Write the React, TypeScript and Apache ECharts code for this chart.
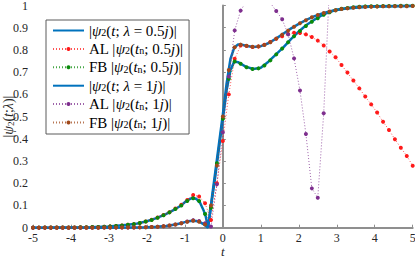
import React, { useEffect, useRef } from 'react';
import * as echarts from 'echarts';

// sample times t_n used by the discrete methods (markers)
const tSample = [
  -5, -4.84375, -4.6875, -4.53125, -4.375, -4.21875, -4.0625, -3.90625, -3.75, -3.59375,
  -3.4375, -3.28125, -3.125, -2.96875, -2.8125, -2.65625, -2.5, -2.34375, -2.1875, -2.03125,
  -1.875, -1.71875, -1.5625, -1.40625, -1.25, -1.09375, -0.9375, -0.78125, -0.625, -0.46875,
  -0.3125, -0.15625, 0, 0.15625, 0.3125, 0.46875, 0.625, 0.78125, 0.9375, 1.09375,
  1.25, 1.40625, 1.5625, 1.71875, 1.875, 2.03125, 2.1875, 2.34375, 2.5, 2.65625,
  2.8125, 2.96875, 3.125, 3.28125, 3.4375, 3.59375, 3.75, 3.90625, 4.0625, 4.21875,
  4.375, 4.53125, 4.6875, 4.84375, 5,
];

// exact curves (continuous blue lines)
const tCurve = [
  -5, -4.5, -4, -3.5, -3, -2.5, -2.25, -2, -1.75, -1.5, -1.25, -1.1, -1, -0.9, -0.8, -0.7,
  -0.6, -0.5, -0.45, -0.39, -0.3, -0.2, -0.1, 0, 0.1, 0.2, 0.3, 0.4, 0.5, 0.6, 0.8, 1.0,
  1.2, 1.4, 1.6, 1.8, 2.0, 2.2, 2.4, 2.6, 2.8, 3.0, 3.25, 3.5, 3.75, 4, 4.5, 5,
];
const exact05 = [
  0.0003, 0.0006, 0.0012, 0.0025, 0.0055, 0.013, 0.019, 0.029, 0.043, 0.061, 0.084, 0.1, 0.115, 0.127, 0.134, 0.13,
  0.112, 0.075, 0.05, 0.0, 0.11, 0.23, 0.36, 0.49, 0.62, 0.71, 0.748, 0.745, 0.735, 0.725, 0.714, 0.72,
  0.747, 0.78, 0.813, 0.85, 0.883, 0.912, 0.935, 0.955, 0.971, 0.981, 0.988, 0.993, 0.996, 0.997, 0.998, 0.999,
];
const exact1 = [
  0, 0, 0, 0.0001, 0.0003, 0.0008, 0.0013, 0.002, 0.004, 0.008, 0.014, 0.02, 0.025, 0.029, 0.031, 0.03,
  0.025, 0.015, 0.009, 0.0, 0.12, 0.25, 0.38, 0.51, 0.65, 0.76, 0.81, 0.825, 0.824, 0.819, 0.813, 0.817,
  0.83, 0.851, 0.874, 0.897, 0.917, 0.935, 0.951, 0.963, 0.973, 0.98, 0.986, 0.99, 0.993, 0.995, 0.997, 0.998,
];

// AL method, lambda = 0.5j
const al05 = [
  0.0003, 0.0004, 0.0005, 0.0006, 0.0007, 0.0009, 0.0011, 0.0013, 0.0017, 0.0021,
  0.0028, 0.0036, 0.0045, 0.006, 0.0077, 0.0098, 0.013, 0.016, 0.021, 0.028,
  0.036, 0.046, 0.057, 0.07, 0.086, 0.103, 0.125, 0.147, 0.14, 0.11,
  0.035, 0.2, 0.39, 0.6, 0.76, 0.82, 0.818, 0.813, 0.815, 0.823,
  0.836, 0.85, 0.862, 0.872, 0.877, 0.876, 0.87, 0.858, 0.842, 0.82,
  0.793, 0.767, 0.732, 0.698, 0.662, 0.627, 0.59, 0.555, 0.518, 0.477,
  0.44, 0.398, 0.36, 0.323, 0.279,
];
// FB method, lambda = 0.5j
const fb05 = [
  0.0003, 0.0004, 0.0005, 0.0006, 0.0007, 0.0009, 0.0011, 0.0013, 0.0017, 0.0021,
  0.0028, 0.0036, 0.0045, 0.006, 0.0077, 0.0098, 0.013, 0.016, 0.021, 0.028,
  0.035, 0.045, 0.056, 0.069, 0.084, 0.1, 0.12, 0.133, 0.12, 0.062,
  0.09, 0.29, 0.49, 0.67, 0.748, 0.738, 0.722, 0.714, 0.717, 0.73,
  0.753, 0.78, 0.806, 0.835, 0.862, 0.885, 0.908, 0.927, 0.943, 0.958,
  0.97, 0.979, 0.985, 0.989, 0.992, 0.994, 0.996, 0.997, 0.997, 0.998,
  0.998, 0.998, 0.999, 0.999, 0.999,
];
// AL method, lambda = 1j (null = outside the plotted range)
const al1 = [
  0, 0, 0, 0, 0, 0, 0, 0, 0.0001, 0.0001,
  0.0001, 0.0002, 0.0003, 0.0003, 0.0004, 0.0006, 0.0008, 0.001, 0.0014, 0.002,
  0.003, 0.0045, 0.007, 0.01, 0.014, 0.02, 0.028, 0.034, 0.03, 0.02,
  0.005, 0.195, 0.43, 0.68, 0.888, 0.977, 1.02, null, null, null,
  1.012, 0.975, 0.938, 0.87, 0.762, 0.617, 0.422, 0.177, 0.135, 0.515,
  1.1, null, null, null, null, null, null, null, null, null,
  null, null, null, null, null,
];
// FB method, lambda = 1j
const fb1 = [
  0, 0, 0, 0, 0, 0, 0, 0, 0.0001, 0.0001,
  0.0001, 0.0002, 0.0003, 0.0003, 0.0004, 0.0006, 0.0008, 0.001, 0.0014, 0.002,
  0.003, 0.0045, 0.007, 0.01, 0.014, 0.02, 0.027, 0.031, 0.027, 0.014,
  0.1, 0.28, 0.5, 0.71, 0.812, 0.824, 0.819, 0.814, 0.816, 0.822,
  0.835, 0.851, 0.869, 0.887, 0.904, 0.92, 0.934, 0.947, 0.957, 0.966,
  0.973, 0.979, 0.984, 0.987, 0.99, 0.992, 0.993, 0.994, 0.995, 0.996,
  0.996, 0.997, 0.997, 0.997, 0.998,
];

const seriesNames = [
  '|ψ2(t; λ = 0.5j)|',
  'AL |ψ2(tn; 0.5j)|',
  'FB |ψ2(tn; 0.5j)|',
  '|ψ2(t; λ = 1j)|',
  'AL |ψ2(tn; 1j)|',
  'FB |ψ2(tn; 1j)|',
];
const legendRich: Record<string, string> = {
  '|ψ2(t; λ = 0.5j)|': '|{i|ψ}{s|2}({i|t}; {i|λ} = 0.5{i|j})|',
  'AL |ψ2(tn; 0.5j)|': 'AL |{i|ψ}{s|2}({i|t}{s|n}; 0.5{i|j})|',
  'FB |ψ2(tn; 0.5j)|': 'FB |{i|ψ}{s|2}({i|t}{s|n}; 0.5{i|j})|',
  '|ψ2(t; λ = 1j)|': '|{i|ψ}{s|2}({i|t}; {i|λ} = 1{i|j})|',
  'AL |ψ2(tn; 1j)|': 'AL |{i|ψ}{s|2}({i|t}{s|n}; 1{i|j})|',
  'FB |ψ2(tn; 1j)|': 'FB |{i|ψ}{s|2}({i|t}{s|n}; 1{i|j})|',
};
const xTicks = [-5, -4, -3, -2, -1, 0, 1, 2, 3, 4, 5];

const SERIF = '"Liberation Serif", "DejaVu Serif", serif';
const BLUE = '#0072BD';
const RED = '#ff1a1a';
const GREEN = '#0a8a0a';
const PURPLE = '#7E2F8E';
const BROWN = '#a0481a';

function pairs(ts: number[], vs: (number | null)[]) {
  return ts.map((t, i) => [t, vs[i] === null ? '-' : vs[i]]);
}

function markerSeries(name: string, vs: (number | null)[], color: string) {
  return {
    name,
    type: 'line',
    data: pairs(tSample, vs),
    symbol: 'circle',
    symbolSize: 4,
    showSymbol: true,
    itemStyle: { color },
    lineStyle: { color, width: 1, type: [1, 2], opacity: 0.75 },
    connectNulls: false,
    clip: true,
  };
}

function lineSeries(name: string, vs: number[]) {
  return {
    name,
    type: 'line',
    data: pairs(tCurve, vs),
    symbol: 'circle',
    symbolSize: 0,
    showSymbol: false,
    lineStyle: { color: BLUE, width: 2.5 },
    itemStyle: { color: BLUE, opacity: 0 },
    clip: true,
  };
}

const rich = {
  i: { fontStyle: 'italic', fontFamily: SERIF, fontSize: 15, color: '#000', lineHeight: 14 },
  s: { fontFamily: SERIF, fontSize: 10, color: '#000', verticalAlign: 'bottom', lineHeight: 10 },
};
const richAxis = {
  i: { fontStyle: 'italic', fontFamily: SERIF, fontSize: 14, color: '#262626', lineHeight: 14 },
  s: { fontFamily: SERIF, fontSize: 9, color: '#262626', verticalAlign: 'bottom', lineHeight: 9 },
};

export default function App() {
  const ref = useRef<HTMLDivElement>(null);
  useEffect(() => {
    if (!ref.current) return;
    const chart = echarts.init(ref.current, undefined, { renderer: 'svg' });
    const axisColor = '#8f8f8f';
    chart.setOption({
      animation: false,
      grid: {
        left: 33, right: 2.3, top: 5.5, bottom: 31.3,
        containLabel: false, outerBoundsMode: 'none',
      },
      xAxis: {
        type: 'value',
        min: xTicks[0],
        max: xTicks[xTicks.length - 1],
        interval: 1,
        axisLine: { show: true, onZero: false, lineStyle: { color: axisColor, width: 2 } },
        axisTick: { show: true, inside: true, length: 3, lineStyle: { color: axisColor, width: 1 } },
        axisLabel: { fontFamily: SERIF, fontSize: 12, lineHeight: 12, color: '#262626', margin: 4 },
        splitLine: { show: false },
        name: 't',
        nameLocation: 'middle',
        nameGap: 17.5,
        nameMoveOverlap: false,
        nameTextStyle: { fontFamily: SERIF, fontStyle: 'italic', fontSize: 13, lineHeight: 12, color: '#262626' },
      },
      yAxis: {
        type: 'value',
        min: 0,
        max: 1,
        interval: 0.1,
        axisLine: { show: true, lineStyle: { color: axisColor, width: 2 } },
        axisTick: { show: true, inside: true, length: 3, lineStyle: { color: axisColor, width: 1 } },
        axisLabel: { fontFamily: SERIF, fontSize: 12, color: '#262626', margin: 5 },
        splitLine: { show: false },
        name: '|{i|ψ}{s|2}({i|t};{i|λ})|',
        nameLocation: 'middle',
        nameGap: 18,
        nameRotate: 90,
        nameMoveOverlap: false,
        nameTextStyle: { fontFamily: SERIF, fontSize: 14, color: '#262626', lineHeight: 14, rich: richAxis },
      },
      legend: {
        orient: 'vertical',
        left: 46,
        top: 20,
        padding: [3, 6, 4, 6],
        itemWidth: 31,
        itemHeight: 5,
        itemGap: 3.4,
        backgroundColor: '#fff',
        borderColor: '#5a5a5a',
        borderWidth: 1,
        borderRadius: 0,
        selectedMode: false,
        data: seriesNames.map((name, i) =>
          i === 0 || i === 3 ? { name, itemStyle: { opacity: 0 } } : { name }),
        formatter: (name: string) => legendRich[name] ?? name,
        textStyle: { fontFamily: SERIF, fontSize: 15, color: '#000', lineHeight: 14, rich },
      },
      series: [
        lineSeries(seriesNames[0], exact05),
        markerSeries(seriesNames[1], al05, RED),
        markerSeries(seriesNames[2], fb05, GREEN),
        lineSeries(seriesNames[3], exact1),
        markerSeries(seriesNames[4], al1, PURPLE),
        markerSeries(seriesNames[5], fb1, BROWN),
      ],
    });
    return () => chart.dispose();
  }, []);
  return (
    <div
      ref={ref}
      style={{ position: 'fixed', left: 0, top: 0, width: 415, height: 259, background: '#fff' }}
    />
  );
}
